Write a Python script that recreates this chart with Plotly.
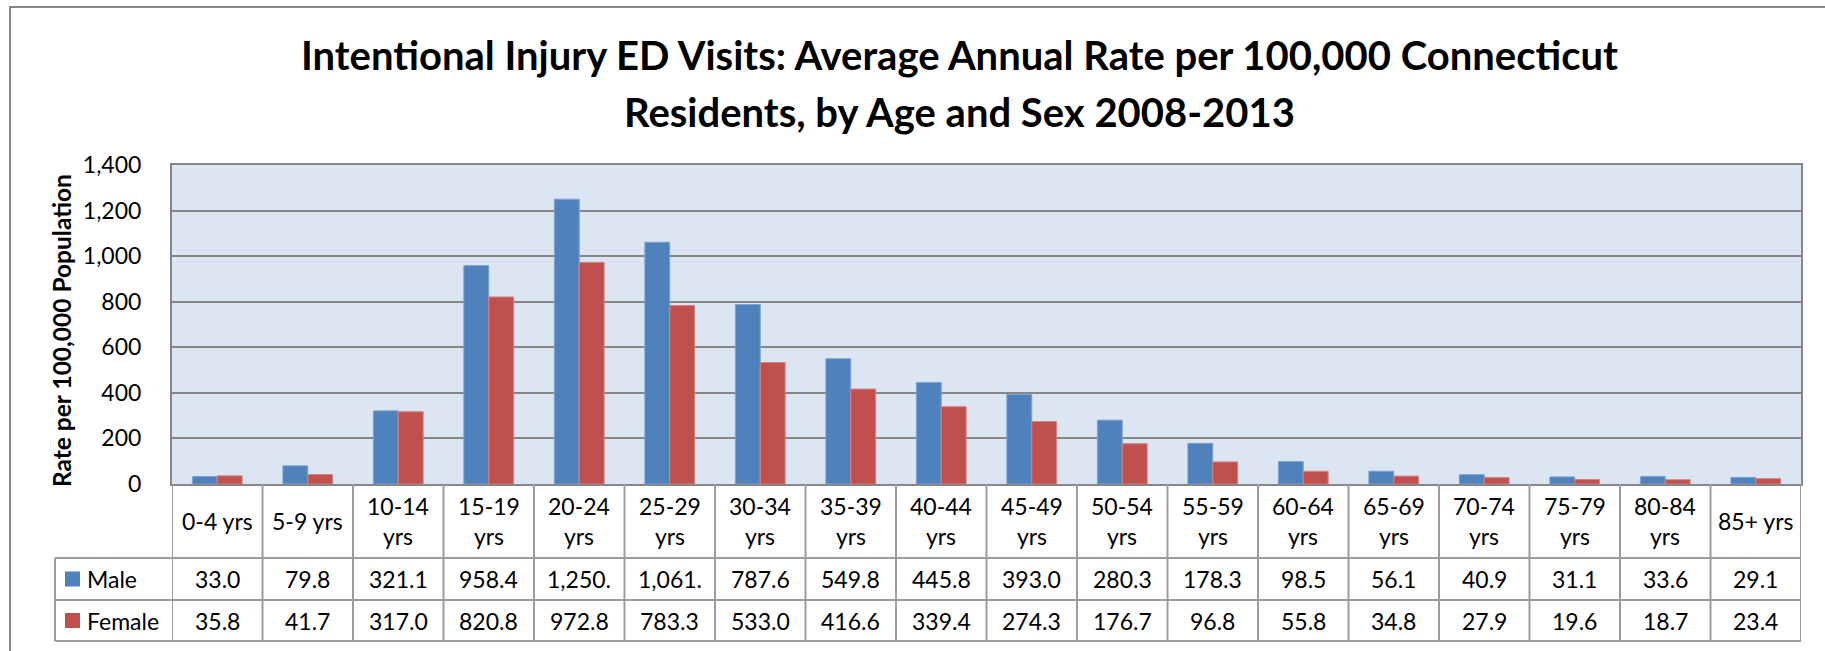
import plotly.graph_objects as go

categories = ["0-4 yrs", "5-9 yrs", "10-14 yrs", "15-19 yrs", "20-24 yrs", "25-29 yrs",
              "30-34 yrs", "35-39 yrs", "40-44 yrs", "45-49 yrs", "50-54 yrs", "55-59 yrs",
              "60-64 yrs", "65-69 yrs", "70-74 yrs", "75-79 yrs", "80-84 yrs", "85+ yrs"]
header_labels = ["0-4 yrs", "5-9 yrs", "10-14<br>yrs", "15-19<br>yrs", "20-24<br>yrs", "25-29<br>yrs",
                 "30-34<br>yrs", "35-39<br>yrs", "40-44<br>yrs", "45-49<br>yrs", "50-54<br>yrs", "55-59<br>yrs",
                 "60-64<br>yrs", "65-69<br>yrs", "70-74<br>yrs", "75-79<br>yrs", "80-84<br>yrs", "85+ yrs"]
male = [33.0, 79.8, 321.1, 958.4, 1250.0, 1061.0, 787.6, 549.8, 445.8, 393.0, 280.3, 178.3,
        98.5, 56.1, 40.9, 31.1, 33.6, 29.1]
female = [35.8, 41.7, 317.0, 820.8, 972.8, 783.3, 533.0, 416.6, 339.4, 274.3, 176.7, 96.8,
          55.8, 34.8, 27.9, 19.6, 18.7, 23.4]
male_text = ["33.0", "79.8", "321.1", "958.4", "1,250.", "1,061.", "787.6", "549.8", "445.8", "393.0",
             "280.3", "178.3", "98.5", "56.1", "40.9", "31.1", "33.6", "29.1"]
female_text = ["35.8", "41.7", "317.0", "820.8", "972.8", "783.3", "533.0", "416.6", "339.4", "274.3",
               "176.7", "96.8", "55.8", "34.8", "27.9", "19.6", "18.7", "23.4"]
series_names = ["Male", "Female"]
y_ticks = [0, 200, 400, 600, 800, 1000, 1200, 1400]

W, H = 1825, 651
L, R, T, B = 172, 24, 165, 167
PW = W - L - R
PH = H - T - B
FONT = "Lato, Carlito, sans-serif"
BLUE = "#4F81BD"
RED = "#C0504D"
GRID = "#868686"
TBL = "#9C9C9C"


def px(xp):
    return (xp - L) / PW


def py(yp):
    return (H - B - yp) / PH


fig = go.Figure()
fig.add_trace(go.Bar(x=categories, y=male, name=series_names[0], marker=dict(color=BLUE, line=dict(color="#7FA2CF", width=1))))
fig.add_trace(go.Bar(x=categories, y=female, name=series_names[1], marker=dict(color=RED, line=dict(color="#D3827F", width=1))))

shapes = []
annotations = []

# outer chart border
shapes.append(dict(type="rect", xref="paper", yref="paper", x0=px(10), x1=px(1835), y0=py(7), y1=py(665),
                   line=dict(color=GRID, width=2), fillcolor="rgba(0,0,0,0)", layer="below"))

# table horizontal lines
for yp in [558, 600, 641]:
    shapes.append(dict(type="line", xref="paper", yref="paper", x0=px(55), x1=1, y0=py(yp), y1=py(yp),
                       line=dict(color=TBL, width=2)))
# table vertical lines at category boundaries
for i in range(len(categories) + 1):
    shapes.append(dict(type="line", xref="x", yref="paper", x0=i - 0.5, x1=i - 0.5, y0=py(484), y1=py(641),
                       line=dict(color=TBL, width=2)))
shapes.append(dict(type="line", xref="paper", yref="paper", x0=px(55), x1=px(55), y0=py(558), y1=py(641),
                   line=dict(color=TBL, width=2)))

# header labels
for i, lab in enumerate(header_labels):
    annotations.append(dict(x=i, y=py(521), xref="x", yref="paper", text=lab, showarrow=False,
                            font=dict(family=FONT, size=23, color="black"), xanchor="center", yanchor="middle"))
# data cells
for row_vals, yc in [(male_text, 579), (female_text, 620.5)]:
    for i, v in enumerate(row_vals):
        annotations.append(dict(x=i, y=py(yc), xref="x", yref="paper", text=v, showarrow=False,
                                font=dict(family=FONT, size=23, color="black"), xanchor="center", yanchor="middle"))
# legend keys
for name, col, yc in [(series_names[0], BLUE, 579), (series_names[1], RED, 620.5)]:
    shapes.append(dict(type="rect", xref="paper", yref="paper", x0=px(65), x1=px(80), y0=py(yc - 7.5), y1=py(yc + 7.5),
                       fillcolor=col, line=dict(width=0)))
    annotations.append(dict(x=px(85), y=py(yc), xref="paper", yref="paper", text=name, showarrow=False,
                            font=dict(family=FONT, size=23, color="black"), xanchor="left", yanchor="middle"))

# y-axis title
annotations.append(dict(x=px(61), y=py(330), xref="paper", yref="paper", text="<b>Rate per 100,000 Population</b>",
                        showarrow=False, textangle=-90, font=dict(family=FONT, size=24.5, color="black"),
                        xanchor="center", yanchor="middle"))
# title
annotations.append(dict(x=px(959), y=py(55), xref="paper", yref="paper",
                        text="<b>Intentional Injury ED Visits: Average Annual Rate per 100,000 Connecticut</b>",
                        showarrow=False, font=dict(family=FONT, size=40, color="black"), xanchor="center", yanchor="middle"))
annotations.append(dict(x=px(959), y=py(112), xref="paper", yref="paper",
                        text="<b>Residents, by Age and Sex 2008-2013</b>",
                        showarrow=False, font=dict(family=FONT, size=40, color="black"), xanchor="center", yanchor="middle"))

fig.update_layout(
    width=W, height=H,
    margin=dict(l=L, r=R, t=T, b=B, pad=0),
    paper_bgcolor="white",
    plot_bgcolor="#DCE6F2",
    barmode="group",
    bargap=0.45,
    bargroupgap=0,
    showlegend=False,
    shapes=shapes,
    annotations=annotations,
    font=dict(family=FONT, color="black"),
)
fig.update_xaxes(type="category", showticklabels=False, showgrid=False, showline=True, linecolor=GRID,
                 linewidth=2, mirror=True, ticks="", range=[-0.5, len(categories) - 0.5])
fig.update_yaxes(range=[0, 1400], tickvals=y_ticks, tickformat=",", showgrid=True, gridcolor=GRID, gridwidth=2,
                 showline=True, linecolor=GRID, linewidth=2, mirror=True, ticks="outside", ticklen=0,
                 ticklabelstandoff=24, tickfont=dict(family=FONT, size=23, color="black"), zeroline=False)

fig.write_html("out.html", config={"displayModeBar": False},
               post_script="document.body.style.margin='0';document.body.style.overflow='hidden';")
